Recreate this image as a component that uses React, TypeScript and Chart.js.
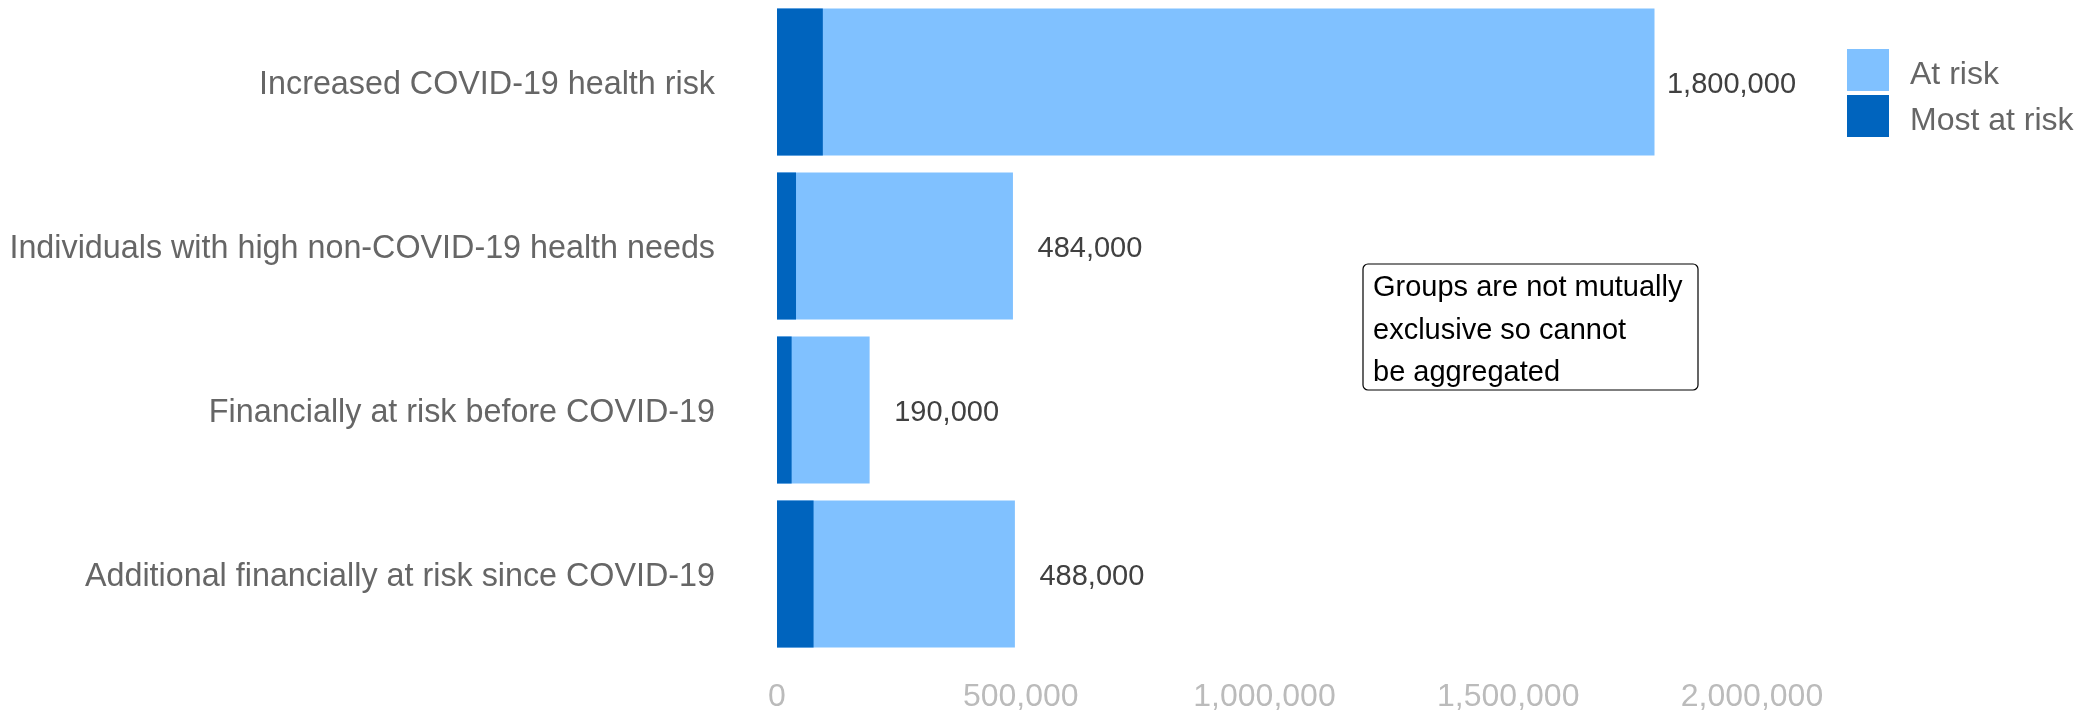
import React, { useEffect, useRef } from "react";
import { Chart, registerables } from "chart.js";

Chart.register(...registerables);

const categories = [
  "Increased COVID-19 health risk",
  "Individuals with high non-COVID-19 health needs",
  "Financially at risk before COVID-19",
  "Additional financially at risk since COVID-19",
];
const atRisk = [1800000, 484000, 190000, 488000];
const mostAtRisk = [94000, 39000, 30000, 75000];
const xTicks = [0, 500000, 1000000, 1500000, 2000000];
const noteLines = ["Groups are not mutually", "exclusive so cannot", "be aggregated"];

const LIGHT = "#80C1FF";
const DARK = "#0064BE";
const FONT = "'Liberation Sans', Arial, sans-serif";

const fmt = (v: number) => v.toLocaleString("en-US");

const overlayPlugin = {
  id: "overlay",
  afterDraw(chart: any) {
    const ctx = chart.ctx;
    const xs = chart.scales.x;
    const ys = chart.scales.y;
    ctx.save();
    // value labels
    ctx.font = `29px ${FONT}`;
    ctx.fillStyle = "#404040";
    ctx.textAlign = "center";
    ctx.textBaseline = "middle";
    atRisk.forEach((v, i) => {
      const x = xs.getPixelForValue(v) + 77;
      const y = ys.getPixelForValue(i);
      ctx.fillText(fmt(v), x, y + 3);
    });
    // legend
    const ds = chart.data.datasets;
    ctx.font = `32px ${FONT}`;
    ctx.textAlign = "left";
    ds.forEach((d: any, i: number) => {
      const top = 49 + i * 46;
      ctx.fillStyle = d.backgroundColor;
      ctx.fillRect(1847, top, 42, 42);
      ctx.fillStyle = "#666666";
      ctx.fillText(d.label, 1910, top + 26);
    });
    // note box
    const bx = 1363, by = 264, bw = 335, bh = 126, r = 5;
    ctx.beginPath();
    ctx.moveTo(bx + r, by);
    ctx.arcTo(bx + bw, by, bx + bw, by + bh, r);
    ctx.arcTo(bx + bw, by + bh, bx, by + bh, r);
    ctx.arcTo(bx, by + bh, bx, by, r);
    ctx.arcTo(bx, by, bx + bw, by, r);
    ctx.closePath();
    ctx.fillStyle = "#ffffff";
    ctx.fill();
    ctx.lineWidth = 1.2;
    ctx.strokeStyle = "#000000";
    ctx.stroke();
    ctx.font = `29px ${FONT}`;
    ctx.fillStyle = "#000000";
    ctx.textBaseline = "middle";
    noteLines.forEach((t, i) => {
      ctx.fillText(t, 1373, 288 + i * 42.5);
    });
    ctx.restore();
  },
};

export default function App() {
  const ref = useRef<HTMLCanvasElement>(null);
  useEffect(() => {
    document.body.style.margin = "0";
    const chart = new Chart(ref.current!, {
      type: "bar",
      data: {
        labels: categories,
        datasets: [
          {
            label: "At risk",
            data: atRisk,
            backgroundColor: LIGHT,
            grouped: false,
            categoryPercentage: 0.895,
            barPercentage: 1,
            order: 2,
          } as any,
          {
            label: "Most at risk",
            data: mostAtRisk,
            backgroundColor: DARK,
            grouped: false,
            categoryPercentage: 0.895,
            barPercentage: 1,
            order: 1,
          } as any,
        ],
      },
      options: {
        indexAxis: "y",
        animation: false,
        responsive: false,
        maintainAspectRatio: false,
        layout: { padding: { left: 0, right: 340, top: 0, bottom: 0 } },
        plugins: {
          legend: { display: false },
          tooltip: { enabled: false },
        },
        scales: {
          x: {
            min: 0,
            max: 2000000,
            afterBuildTicks: (s: any) => {
              s.ticks = xTicks.map((v) => ({ value: v }));
            },
            afterFit: (s: any) => {
              s.height = 59;
            },
            grid: { display: false, drawTicks: false },
            border: { display: false },
            ticks: {
              padding: 22,
              color: "#BBBBBB",
              font: { size: 32, family: FONT },
              callback: (v: any) => fmt(Number(v)),
              maxRotation: 0,
            },
          },
          y: {
            afterFit: (s: any) => {
              s.width = 777;
              s.paddingTop = 0;
              s.paddingBottom = 0;
            },
            grid: { display: false, drawTicks: false },
            border: { display: false },
            ticks: {
              padding: 62,
              labelOffset: 3,
              color: "#666666",
              font: { size: 32.3, family: FONT },
            },
          },
        },
      },
      plugins: [overlayPlugin],
    });
    return () => chart.destroy();
  }, []);
  return (
    <div style={{ position: "absolute", left: 0, top: 0, width: 2092, height: 715 }}>
      <canvas ref={ref} width={2092} height={715} style={{ width: 2092, height: 715 }} />
    </div>
  );
}
